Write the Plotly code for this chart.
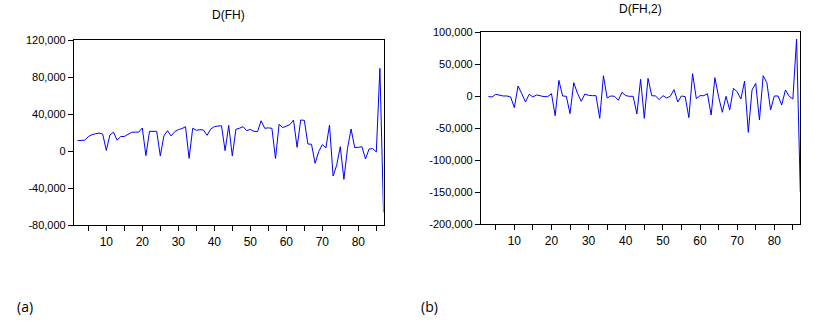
import plotly.graph_objects as go

# D(FH): observations 2..87
obs_a_start = 2
d_fh = [11500, 11500, 12000, 15800, 17900, 19000, 19600, 18600, 1000, 17600,
        20700, 12000, 16000, 16000, 17900, 20500, 20700, 20700, 25200, -4700,
        21600, 21600, 21600, -5000, 16600, 22300, 16600, 21200, 23400, 24500,
        26600, -7600, 24900, 22700, 23400, 23000, 17300, 24000, 26600, 27300,
        27600, 700, 28000, -5000, 23700, 25000, 26600, 22300, 23700, 21600,
        21200, 33000, 24900, 25300, 24900, -7800, 29200, 25600, 27100, 28800,
        33800, 4300, 33800, 33500, 7900, 7600, -13000, -400, 7200, 3600,
        28400, -26700, -15000, 5000, -30300, 3200, 24100, 4000, 4300, 5000,
        -8300, 2500, 2900, -700, 89700, -66000]

# D(FH,2): observations 3..87
obs_b_start = 3
d_fh2 = [-500, -1000, 3100, 1500, 500, 500, -1000, -17800, 16100, 4100,
         -8900, 3100, -1000, 2100, 500, -500, -500, 4100, -30300, 24900,
         500, 0, -27100, 21300, 4700, -7800, 3600, 1500, 1000, 1000,
         -34400, 32200, -2600, 500, 0, -6200, 6200, 1000, 0, 0,
         -27600, 26500, -34400, 28100, 1000, 500, -5200, 1000, -2600, 0,
         10400, -8900, 500, -500, -33300, 35400, -3600, 1000, 1000, 4100,
         -29300, 29100, -600, -25000, 0, -21300, 12400, 7200, -4200, 23900,
         -56400, 9800, 20200, -37100, 32200, 21300, -21300, 500, 500, -13500,
         9900, 0, -4200, 89500, -150000]

x_tick_vals = list(range(5, 90, 5))
x_tick_text = [str(v) if v % 10 == 0 else "" for v in x_tick_vals]

ya_vals = [-80000, -40000, 0, 40000, 80000, 120000]
ya_text = ["-80,000", "-40,000", "0", "40,000", "80,000", "120,000"]
yb_vals = [-200000, -150000, -100000, -50000, 0, 50000, 100000]
yb_text = ["-200,000", "-150,000", "-100,000", "-50,000", "0", "50,000", "100,000"]

W, H = 817, 325
def fx(px): return px / W
def fy(py): return 1 - py / H

obs_a = list(range(obs_a_start, obs_a_start + len(d_fh)))
obs_b = list(range(obs_b_start, obs_b_start + len(d_fh2)))

fig = go.Figure()
line = dict(color="#0000FF", width=1)
fig.add_trace(go.Scatter(x=obs_a, y=d_fh, mode="lines", line=line,
                         xaxis="x", yaxis="y", showlegend=False))
fig.add_trace(go.Scatter(x=obs_b, y=d_fh2, mode="lines", line=line,
                         xaxis="x2", yaxis="y2", showlegend=False))

tickfont = dict(family="Liberation Sans, Arial, sans-serif", size=11, color="#000000")
common_x = dict(range=[1, 87], tickmode="array", tickvals=x_tick_vals, ticktext=x_tick_text,
                ticks="outside", ticklen=5, tickcolor="#000", showline=True, linecolor="#000",
                linewidth=1, mirror=True, showgrid=False, zeroline=False, automargin=False,
                tickfont=dict(tickfont, size=12))
common_y = dict(tickmode="array", ticks="outside", ticklen=5, tickcolor="#000",
                showline=True, linecolor="#000", linewidth=1, mirror=True, automargin=False,
                showgrid=False, zeroline=False, tickfont=tickfont)

def note(text, x, y, size, family):
    return dict(text=text, x=fx(x), y=fy(y), xref="paper", yref="paper",
                xanchor="center", yanchor="middle", showarrow=False,
                font=dict(family=family, size=size, color="#000"))

fig.update_layout(
    width=W, height=H, margin=dict(l=0, r=0, t=0, b=0, autoexpand=False),
    paper_bgcolor="white", plot_bgcolor="white",
    xaxis=dict(common_x, domain=[fx(73.9), fx(383.5)], anchor="y"),
    yaxis=dict(common_y, domain=[fy(225.3), fy(40.3)], anchor="x",
               range=[-80000, 120000], tickvals=ya_vals, ticktext=ya_text),
    xaxis2=dict(common_x, domain=[fx(480.9), fx(800.3)], anchor="y2"),
    yaxis2=dict(common_y, domain=[fy(224.3), fy(32.3)], anchor="x2",
                range=[-200000, 100000], tickvals=yb_vals, ticktext=yb_text),
    annotations=[
        note("D(FH)", 228, 15, 12, "Liberation Sans, Arial"),
        note("D(FH,2)", 640, 9, 12, "Liberation Sans, Arial"),
        note("(a)", 25, 306, 14, "Open Sans, Liberation Sans"),
        note("(b)", 429, 306, 14, "Open Sans, Liberation Sans"),
    ],
)

fig.write_html("out.html", config={"displayModeBar": False},
               post_script="document.body.style.margin='0';document.body.style.overflow='hidden';")
